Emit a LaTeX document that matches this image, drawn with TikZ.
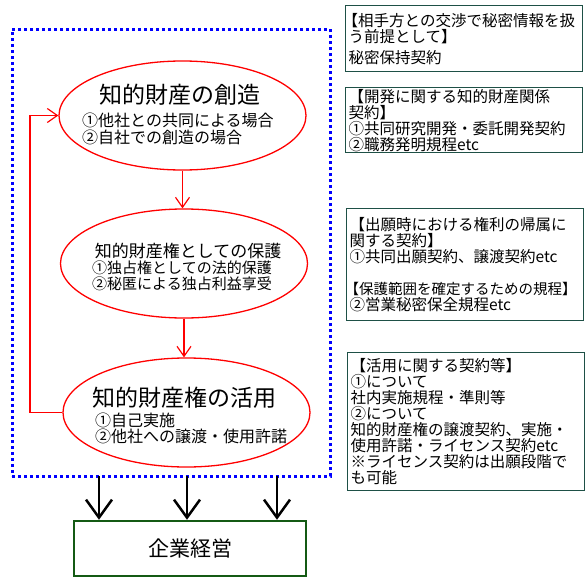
\documentclass[tikz,border=0pt]{standalone}
\usepackage{fontspec}
\setmainfont{Noto Sans CJK JP}
\usepackage{xcolor}
\usetikzlibrary{arrows.meta,shapes.geometric}
\definecolor{notegreen}{RGB}{30,80,70}
\definecolor{mgreen}{RGB}{20,90,20}
\tikzset{
	stage/.style={draw=red,line width=1.3pt,ellipse,minimum width=247,minimum height=109,inner sep=0pt},
	stagetitle/.style={inner sep=0pt},
	stagetext/.style={anchor=west,align=left,inner sep=0pt},
	note/.style={draw=notegreen,line width=1.3pt,anchor=north west,inner xsep=3pt,inner ysep=0pt,text width=231pt,align=left,font=\fontsize{15.5}{16}\selectfont},
	redflow/.style={red,line width=1.2pt,-{Straight Barb[length=10pt,width=14pt]}},
	downflow/.style={black,line width=2.5pt,-{Straight Barb[length=18pt,width=26pt]}},
}
\begin{document}
\begin{tikzpicture}[x=1pt,y=-1pt]
	\useasboundingbox (0,0) rectangle (587,581);
	\node[draw=blue,line width=3pt,dash pattern=on 3pt off 3pt,minimum width=318,minimum height=447,inner sep=0pt] (frame) at (171,252.5){};

	\node[stage] (create) at (182.5,115.5){};
	\node[stage] (protect) at (184,263.5){};
	\node[stage] (use) at (186.5,412.5){};

	\node[stagetitle,font=\fontsize{23}{25}\selectfont] (createT) at (180,95){知的財産の創造};
	\node[stagetext,font=\fontsize{16}{17}\selectfont] (createS) at (82,129){①他社との共同による場合\\②自社での創造の場合};
	\node[stagetitle,font=\fontsize{17}{19}\selectfont] (protectT) at (188,251){知的財産権としての保護};
	\node[stagetext,font=\fontsize{15}{15.5}\selectfont] (protectS) at (92,276){①独占権としての法的保護\\②秘匿による独占利益享受};
	\node[stagetitle,font=\fontsize{23}{25}\selectfont] (useT) at (184.5,398){知的財産権の活用};
	\node[stagetext,font=\fontsize{16}{16}\selectfont] (useS) at (95,428){①自己実施\\②他社への譲渡・使用許諾};

	\draw[redflow] (create.south) -- (create.south |- protect.north);
	\draw[redflow] (protect.south) -- (protect.south |- use.north);
	\coordinate (back) at (30,413);
	\draw[redflow] (use.west) -- (use.west -| back) |- (create.west);

	\node[note,minimum height=66] (nda) at (345,5){\hspace*{-6pt}【相手方との交渉で秘密情報を扱\\う前提として】\\[5pt]秘密保持契約};
	\node[note,minimum height=65] (dev) at (345,87){【開発に関する知的財産関係\\契約】\\①共同研究開発・委託開発契約\\②職務発明規程etc};
	\node[note,minimum height=112] (app) at (346,208){【出願時における権利の帰属に\\関する契約】\\①共同出願契約、譲渡契約etc\\[16pt]\hspace*{-5pt}{\fontsize{14.5}{16}\selectfont【保護範囲を確定するための規程】}\\②営業秘密保全規程etc};
	\node[note,minimum height=138] (lic) at (347,352){【活用に関する契約等】\\①について\\社内実施規程・準則等\\②について\\知的財産権の譲渡契約、実施・\\使用許諾・ライセンス契約etc\\※ライセンス契約は出願段階で\\も可能};

	\node[draw=mgreen,line width=2.5pt,minimum width=232,minimum height=55,inner sep=0pt,font=\fontsize{21}{23}\selectfont] (mg) at (190,548.5){企業経営};

	\foreach \x in {99,187,277}{
		\coordinate (top\x) at (\x,476);
		\draw[downflow] (top\x) -- (top\x |- mg.north);
	}
\end{tikzpicture}
\end{document}
